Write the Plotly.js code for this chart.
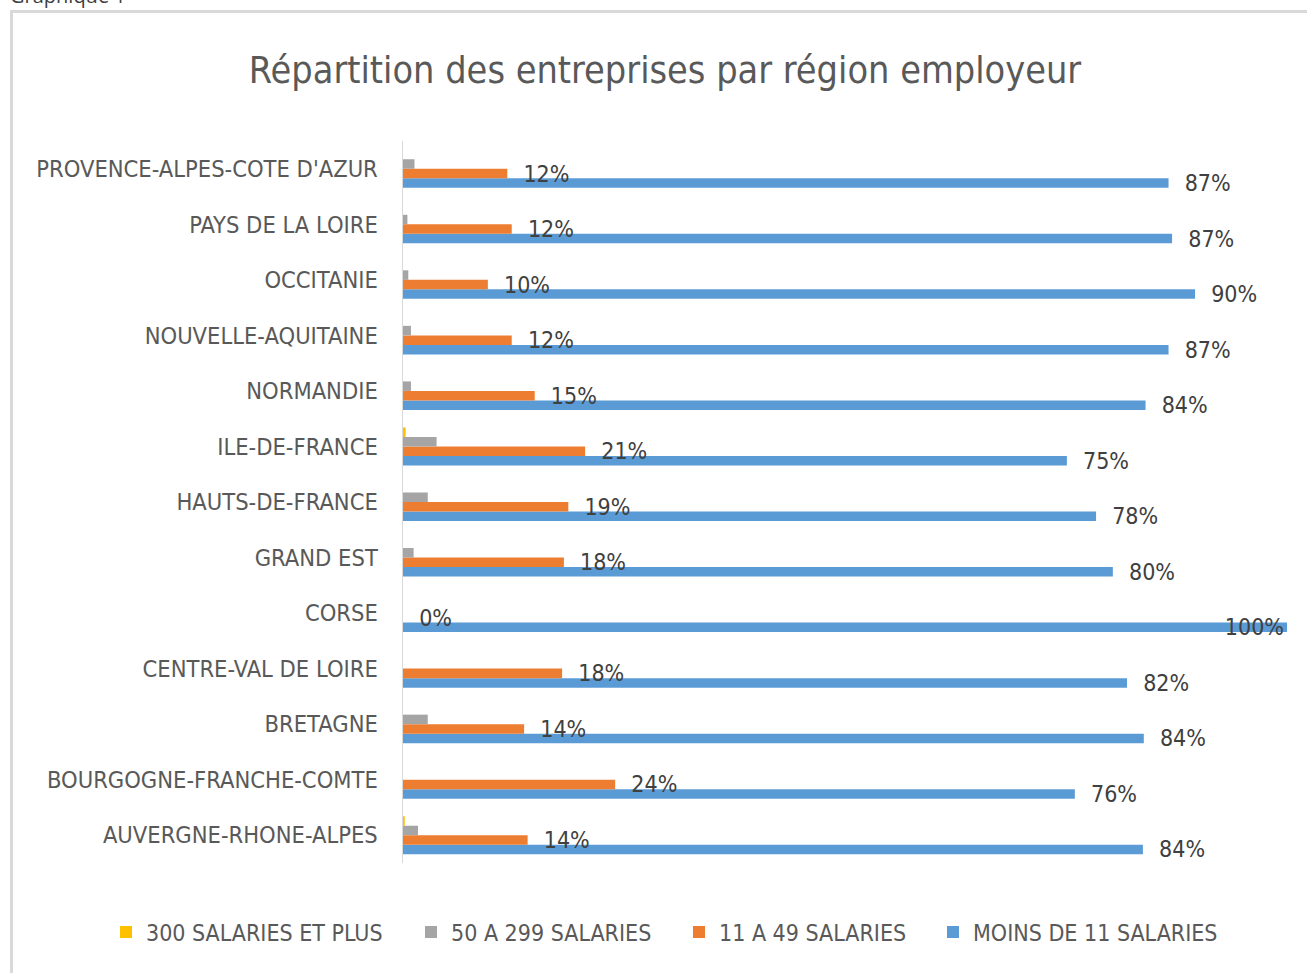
<!DOCTYPE html>
<html>
<head>
<meta charset="utf-8">
<script src="https://cdn.plot.ly/plotly-3.0.1.min.js"></script>
<style>
html, body { margin: 0; padding: 0; background: #ffffff; }
#chart { width: 1307px; height: 973px; }
</style>
</head>
<body>
<div id="chart"></div>
<script>
// ---- Data ----
const categories = [
  'AUVERGNE-RHONE-ALPES',
  'BOURGOGNE-FRANCHE-COMTE',
  'BRETAGNE',
  'CENTRE-VAL DE LOIRE',
  'CORSE',
  'GRAND EST',
  'HAUTS-DE-FRANCE',
  'ILE-DE-FRANCE',
  'NORMANDIE',
  'NOUVELLE-AQUITAINE',
  'OCCITANIE',
  'PAYS DE LA LOIRE',
  "PROVENCE-ALPES-COTE D'AZUR"
];
const seriesNames = ['MOINS DE 11 SALARIES', '11 A 49 SALARIES', '50 A 299 SALARIES', '300 SALARIES ET PLUS'];
const moins11 = [0.837, 0.760, 0.838, 0.819, 1.000, 0.803, 0.784, 0.751, 0.840, 0.866, 0.896, 0.870, 0.866];
const s11a49 = [0.141, 0.240, 0.137, 0.180, 0.000, 0.182, 0.187, 0.206, 0.149, 0.123, 0.096, 0.123, 0.118];
const s50a299 = [0.017, 0.000, 0.028, 0.000, 0.000, 0.012, 0.028, 0.038, 0.009, 0.009, 0.006, 0.005, 0.013];
const s300plus = [0.002, 0.000, 0.000, 0.000, 0.000, 0.000, 0.000, 0.003, 0.000, 0.000, 0.000, 0.000, 0.000];
const colors = ['#5B9BD5', '#ED7D31', '#A5A5A5', '#FFC000'];

// ---- Layout geometry ----
const W = 1307, H = 973;
const M = { l: 403, r: 20, t: 141, b: 110 };
const pw = W - M.l - M.r, ph = H - M.t - M.b;
const px = v => (v - M.l) / pw;
const py = v => (H - M.b - v) / ph;

const FONT = '"DejaVu Sans Condensed", "Liberation Sans Narrow", Arial, sans-serif';
const NB = '\u00A0\u00A0';
const legendIds = ['legend4', 'legend3', 'legend2', 'legend'];
const legendLeft = [933, 679, 411, 106];

function labelTrace(i, values) {
  return {
    type: 'bar', orientation: 'h', name: seriesNames[i], legend: legendIds[i],
    y: categories, x: values,
    marker: { color: colors[i] },
    texttemplate: NB + '%{x:.0%}',
    textposition: values.map(v => v >= 0.99 ? 'inside' : 'outside'),
    insidetextanchor: 'end',
    constraintext: 'none',
    cliponaxis: false,
    textfont: { family: FONT, size: 23, color: '#404040' },
    insidetextfont: { family: FONT, size: 23, color: '#404040' },
    outsidetextfont: { family: FONT, size: 23, color: '#404040' },
    hoverinfo: 'skip'
  };
}
function plainTrace(i, values) {
  return {
    type: 'bar', orientation: 'h', name: seriesNames[i], legend: legendIds[i],
    y: categories, x: values,
    marker: { color: colors[i] },
    hoverinfo: 'skip'
  };
}

const data = [
  labelTrace(0, moins11),
  labelTrace(1, s11a49),
  plainTrace(2, s50a299),
  plainTrace(3, s300plus)
];

function legendAt(left) {
  return {
    orientation: 'h',
    x: px(left), xanchor: 'left',
    y: py(932), yanchor: 'middle',
    font: { family: FONT, size: 23, color: '#595959' },
    bgcolor: 'rgba(0,0,0,0)'
  };
}

const layout = {
  width: W, height: H,
  margin: M,
  paper_bgcolor: '#ffffff',
  plot_bgcolor: '#ffffff',
  barmode: 'group',
  bargap: 0.315,
  bargroupgap: 0,
  showlegend: true,
  font: { family: FONT, color: '#595959', size: 23 },
  title: {
    text: 'Répartition des entreprises par région employeur',
    font: { family: FONT, size: 37.5, color: '#595959' },
    xref: 'container', yref: 'container',
    x: 665 / W, xanchor: 'center',
    y: 1 - 70 / H, yanchor: 'middle'
  },
  xaxis: {
    range: [0, 1],
    showgrid: false, zeroline: false, showline: false,
    showticklabels: false, ticks: '', fixedrange: true
  },
  yaxis: {
    type: 'category',
    showgrid: false, zeroline: false,
    showline: true, linecolor: '#D9D9D9', linewidth: 1.5,
    ticks: '', ticklabelstandoff: 19,
    tickfont: { family: FONT, size: 23.5, color: '#595959' },
    fixedrange: true
  },
  legend: legendAt(legendLeft[3]),
  legend2: legendAt(legendLeft[2]),
  legend3: legendAt(legendLeft[1]),
  legend4: legendAt(legendLeft[0]),
  shapes: [
    { type: 'line', xref: 'paper', yref: 'paper', x0: px(11.5), x1: px(11.5), y0: py(11.5), y1: py(H + 5), line: { color: '#D9D9D9', width: 3 } },
    { type: 'line', xref: 'paper', yref: 'paper', x0: px(10), x1: px(W + 5), y0: py(11.5), y1: py(11.5), line: { color: '#D9D9D9', width: 3 } }
  ],
  annotations: [
    { text: 'Graphique 1', xref: 'paper', yref: 'paper', x: px(8), y: py(11), xanchor: 'left', yanchor: 'bottom', showarrow: false,
      font: { family: '"Open Sans", sans-serif', size: 20, color: '#404040' } }
  ]
};

Plotly.newPlot('chart', data, layout, { displayModeBar: false, staticPlot: true });
</script>
</body>
</html>
